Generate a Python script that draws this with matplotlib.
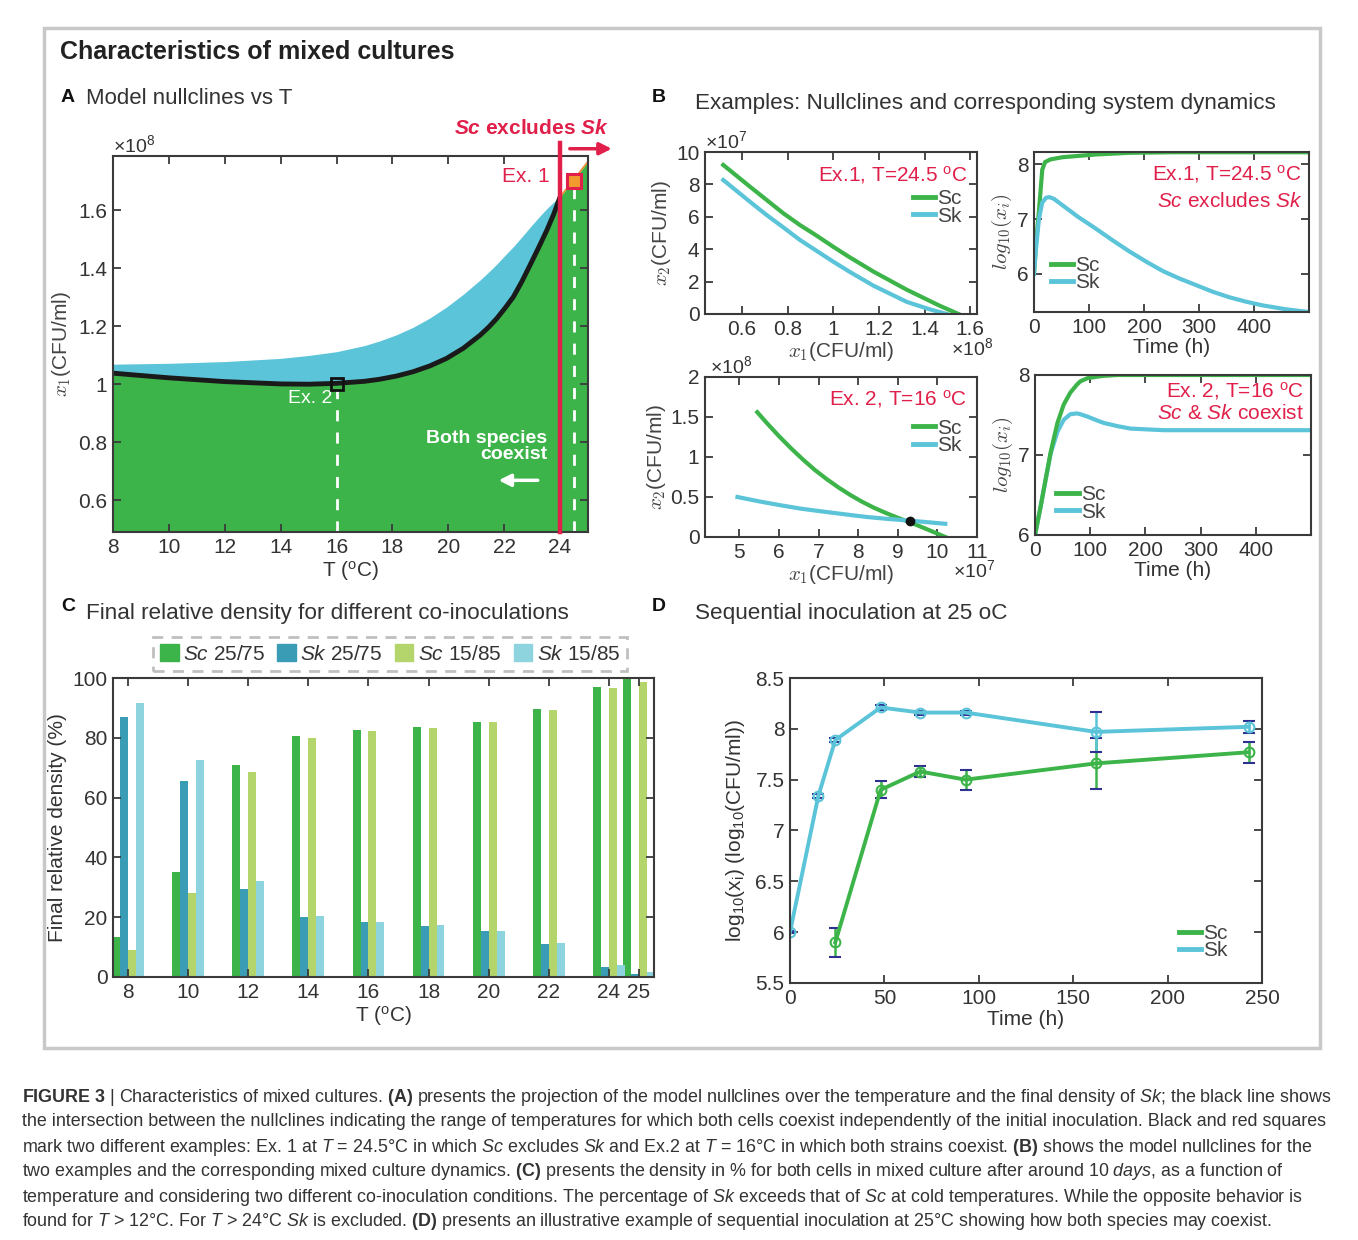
import numpy as np
import matplotlib
matplotlib.use("Agg")
from matplotlib import pyplot as plt
from matplotlib.lines import Line2D
from matplotlib.patches import Rectangle, Patch

plt.rcParams['font.family'] = ['Liberation Sans', 'DejaVu Sans']
plt.rcParams['mathtext.fontset'] = 'custom'
plt.rcParams['mathtext.rm'] = 'Liberation Sans'
plt.rcParams['mathtext.it'] = 'Liberation Sans:italic'
plt.rcParams['mathtext.bf'] = 'Liberation Sans:bold'
try:
    plt.rcParams['mathtext.bfit'] = 'Liberation Sans:italic:bold'
    excl_label = r'$\mathbfit{Sc}$ excludes $\mathbfit{Sk}$'
except KeyError:
    excl_label = r'$\mathbf{Sc}$ excludes $\mathbf{Sk}$'

GREEN = '#3db449'
CYAN = '#5bc4d9'
RED = '#e0204a'
TXT = '#333333'
NAVY = '#2e3192'

# ---- data: panel A (nullclines vs T) ----
nc_T = [8, 10, 12, 14, 15, 16, 17, 17.54, 18.14, 18.74, 19.34, 19.94, 20.54, 21.14, 21.44,
        21.74, 22.03, 22.33, 22.63, 22.93, 23.23, 23.53, 23.77, 24.0]
black_x1 = [1.038, 1.022, 1.009, 1.001, 1.0, 1.003, 1.010, 1.017, 1.028, 1.043, 1.063, 1.089,
            1.124, 1.169, 1.196, 1.227, 1.262, 1.301, 1.353, 1.411, 1.47, 1.531, 1.585, 1.645]
cyan_x1 = [1.069, 1.072, 1.078, 1.089, 1.099, 1.112, 1.133, 1.149, 1.170, 1.196, 1.228, 1.266,
           1.310, 1.359, 1.386, 1.414, 1.444, 1.474, 1.507, 1.541, 1.574, 1.605, 1.627, 1.645]
edge_T = [24.0, 25.0]
edge_x1 = [1.645, 1.767]
ex1 = (24.5, 1.70)
ex2 = (16.0, 1.0)
T_excl = 24.0

# ---- data: panel B ----
b1_sc_x = [0.518, 0.635, 0.708, 0.781, 0.854, 0.928, 1.0, 1.07, 1.176, 1.322, 1.468, 1.549]
b1_sc_y = [9.2, 7.86, 7.04, 6.22, 5.49, 4.83, 4.15, 3.52, 2.62, 1.5, 0.5, 0.0]
b1_sk_x = [0.518, 0.635, 0.708, 0.781, 0.854, 0.928, 1.0, 1.07, 1.176, 1.322, 1.42, 1.498]
b1_sk_y = [8.27, 6.93, 6.11, 5.35, 4.57, 3.89, 3.23, 2.62, 1.75, 0.75, 0.3, 0.0]

b2_t_sc = [0, 4, 9, 15, 20, 30, 52, 113, 173, 250, 500]
b2_sc = [6.0, 6.6, 7.15, 7.9, 8.04, 8.09, 8.13, 8.18, 8.21, 8.22, 8.22]
b2_t_sk = [0, 4, 9, 15, 22, 28, 36, 52, 80, 113, 143, 173, 204, 234, 265, 295, 325,
           355, 385, 416, 458, 499]
b2_sk = [6.0, 6.5, 7.0, 7.3, 7.39, 7.40, 7.37, 7.25, 7.04, 6.82, 6.61, 6.41, 6.22, 6.05,
         5.91, 5.79, 5.67, 5.57, 5.49, 5.42, 5.35, 5.30]

b3_sc_x = [5.45, 5.7, 6.0, 6.3, 6.6, 6.9, 7.2, 7.5, 7.8, 8.1, 8.4, 8.7, 9.0, 9.3, 9.6, 9.9, 10.2]
b3_sc_y = [1.56, 1.42, 1.26, 1.11, 0.97, 0.84, 0.725, 0.62, 0.525, 0.44, 0.365, 0.30, 0.24,
           0.185, 0.125, 0.063, 0.0]
b3_sk_x = [4.95, 5.5, 6.0, 6.54, 7.0, 7.4, 7.8, 8.22, 8.7, 9.3, 9.75, 10.2]
b3_sk_y = [0.50, 0.445, 0.40, 0.355, 0.325, 0.30, 0.275, 0.25, 0.228, 0.205, 0.185, 0.165]
b3_eq = (9.3, 0.195)

b4_t = [0, 9.5, 18.6, 28.5, 40.6, 52, 64, 76, 82, 95, 113, 125, 150, 173, 234, 300, 500]
b4_sc = [6.0, 6.33, 6.67, 7.04, 7.40, 7.63, 7.78, 7.88, 7.92, 7.96, 7.98, 7.99, 8.0,
         8.0, 8.0, 8.0, 8.0]
b4_sk = [6.0, 6.33, 6.67, 7.02, 7.29, 7.44, 7.51, 7.52, 7.51, 7.48, 7.43, 7.40, 7.36,
         7.33, 7.31, 7.31, 7.31]

# ---- data: panel C (final relative density %) ----
temps = [8, 10, 12, 14, 16, 18, 20, 22, 24, 25]
sc_25 = [13.5, 35, 71, 80.5, 82.5, 83.5, 85.3, 89.5, 97, 100]
sk_25 = [87, 65.5, 29.5, 20, 18.3, 17.2, 15.3, 11.2, 3.4, 0.9]
sc_15 = [9, 28, 68.6, 80, 82.3, 83.3, 85.2, 89.2, 96.5, 98.8]
sk_15 = [91.5, 72.5, 32, 20.5, 18.4, 17.3, 15.5, 11.5, 4.1, 1.8]
c_series = [('Sc', ' 25/75', sc_25, '#3db449'), ('Sk', ' 25/75', sk_25, '#3a9db5'),
            ('Sc', ' 15/85', sc_15, '#b3d56c'), ('Sk', ' 15/85', sk_15, '#8dd4df')]

# ---- data: panel D (sequential inoculation) ----
d_t_sk = [0, 15, 24, 48, 69, 93, 162, 243]
d_sk = [6.0, 7.34, 7.89, 8.21, 8.16, 8.16, 7.97, 8.02]
d_sk_err = [0.01, 0.02, 0.02, 0.02, 0.02, 0.02, 0.2, 0.06]
d_t_sc = [24, 48, 69, 93, 162, 243]
d_sc = [5.9, 7.40, 7.58, 7.50, 7.66, 7.77]
d_sc_err = [0.14, 0.085, 0.05, 0.1, 0.25, 0.105]

W, H = 1358, 1240
fig = plt.figure(figsize=(W / 100, H / 100), dpi=100)


def box(l, t, r, b):
    return [l / W, 1 - b / H, (r - l) / W, (b - t) / H]


def ftext(x, y, s, **kw):
    return fig.text(x / W, 1 - y / H, s, **kw)


def style(ax, fs=15):
    for sp in ax.spines.values():
        sp.set_color('#3a3a3a')
        sp.set_linewidth(1.5)
    ax.tick_params(direction='in', top=True, right=True, length=6, width=1.3,
                   labelsize=fs, colors='#3a3a3a', labelcolor=TXT, pad=4)


# outer frame and titles
fig.patches.append(Rectangle((44 / W, 1 - 1048 / H), 1276 / W, 1020 / H, transform=fig.transFigure,
                             fill=False, edgecolor='#c8c8c8', lw=2.5))
ftext(60, 52, 'Characteristics of mixed cultures', fontsize=18, fontweight='bold', va='center', color='#222')
ftext(61, 98, 'A', fontsize=14, fontweight='bold', va='center', color='#111')
ftext(86, 98, 'Model nullclines vs T', fontsize=16, va='center', color=TXT)
ftext(652, 98, 'B', fontsize=14, fontweight='bold', va='center', color='#111')
ftext(695, 103, 'Examples: Nullclines and corresponding system dynamics', fontsize=16.2, va='center', color=TXT)
ftext(61, 606, 'C', fontsize=14, fontweight='bold', va='center', color='#111')
ftext(86, 613, 'Final relative density for different co-inoculations', fontsize=16.2, va='center', color=TXT)
ftext(652, 606, 'D', fontsize=14, fontweight='bold', va='center', color='#111')
ftext(695, 613, 'Sequential inoculation at 25 oC', fontsize=16.2, va='center', color=TXT)

# ---------------- panel A ----------------
axA = fig.add_axes(box(113, 156, 588, 532))
axA.set_xlim(8, 25)
axA.set_ylim(0.491, 1.786)
axA.fill_between(nc_T, black_x1, cyan_x1, color=CYAN, lw=0)
axA.fill_between(nc_T + edge_T, 0.3, black_x1 + edge_x1, color=GREEN, lw=0)
axA.plot(edge_T, edge_x1, color='#f08a30', lw=1.2)
axA.plot(nc_T, black_x1, color='#1a1a1a', lw=3.5, solid_capstyle='butt', solid_joinstyle='round')
axA.plot([ex2[0]] * 2, [0.491, ex2[1] - 0.02], color='white', lw=2, dashes=(4, 4))
axA.plot([ex1[0]] * 2, [0.491, ex1[1] - 0.02], color='white', lw=2, dashes=(4, 4))
axA.plot([T_excl] * 2, [0.491, 1.83], color=RED, lw=3.2, clip_on=False, zorder=5)
axA.plot(*ex1, marker='s', ms=10, mfc='#f29a2e', mec=RED, mew=2.2, zorder=6)
axA.plot(*ex2, marker='s', ms=9, mfc='none', mec='#111', mew=2, zorder=6)
axA.annotate('', xy=(25.95, 1.811), xytext=(24.25, 1.811), annotation_clip=False,
             arrowprops=dict(arrowstyle='-|>', color=RED, lw=2.5, mutation_scale=18))
axA.annotate('', xy=(21.7, 0.669), xytext=(23.3, 0.669),
             arrowprops=dict(arrowstyle='-|>', color='white', lw=2.5, mutation_scale=18))
axA.text(23.55, 0.785, 'Both species\ncoexist', ha='right', va='center', color='white',
         fontsize=14, fontweight='bold', linespacing=0.95)
axA.text(15.06, 0.952, 'Ex. 2', ha='center', va='center', color='white', fontsize=14)
axA.text(23.64, 1.717, 'Ex. 1', ha='right', va='center', color=RED, fontsize=15)
axA.text(25.74, 1.881, excl_label, ha='right', va='center', color=RED, fontsize=15,
         fontweight='bold', clip_on=False)
axA.set_xticks(range(8, 25, 2))
axA.set_yticks([0.6, 0.8, 1.0, 1.2, 1.4, 1.6])
axA.set_yticklabels(['0.6', '0.8', '1', '1.2', '1.4', '1.6'])
style(axA)
axA.set_xlabel(r'T ($^\mathregular{o}$C)', fontsize=15, color=TXT, labelpad=2)
axA.set_ylabel(r'$x_1$(CFU/ml)', fontsize=15, color='#444', math_fontfamily='cm', labelpad=4)
axA.text(0.0, 1.03, r'×10$^8$', transform=axA.transAxes, fontsize=14, color=TXT, va='center')


def line_legend(ax, loc, anchor, fs=15):
    handles = [Line2D([], [], color=GREEN, lw=3.5), Line2D([], [], color=CYAN, lw=3.5)]
    leg = ax.legend(handles, ['Sc', 'Sk'], loc=loc, bbox_to_anchor=anchor, frameon=False,
                    fontsize=fs, handlelength=1.1, handletextpad=0.1, labelspacing=-0.08,
                    borderpad=0, borderaxespad=0)
    for t in leg.get_texts():
        t.set_color('#444')
    return leg


# ---------------- panel B ----------------
axB1 = fig.add_axes(box(705, 152, 977, 314))
axB1.plot(b1_sc_x, b1_sc_y, color=GREEN, lw=3)
axB1.plot(b1_sk_x, b1_sk_y, color=CYAN, lw=3)
axB1.set_xlim(0.438, 1.63)
axB1.set_ylim(0, 10)
axB1.set_xticks([0.6, 0.8, 1.0, 1.2, 1.4, 1.6])
axB1.set_xticklabels(['0.6', '0.8', '1', '1.2', '1.4', '1.6'])
axB1.set_yticks(range(0, 11, 2))
style(axB1)
axB1.set_xlabel(r'$x_1$(CFU/ml)', fontsize=15, color='#444', math_fontfamily='cm', labelpad=1)
axB1.set_ylabel(r'$x_2$(CFU/ml)', fontsize=15, color='#444', math_fontfamily='cm', labelpad=2)
axB1.text(0.0, 1.065, r'×10$^7$', transform=axB1.transAxes, fontsize=14, color=TXT, va='center')
axB1.text(0.905, -0.21, r'×10$^8$', transform=axB1.transAxes, fontsize=14, color=TXT, va='center')
axB1.text(0.967, 0.86, r'Ex.1, T=24.5 $^\mathregular{o}$C', transform=axB1.transAxes, ha='right',
          va='center', color=RED, fontsize=15)
line_legend(axB1, 'upper right', (0.945, 0.77))

axB2 = fig.add_axes(box(1034, 152, 1309, 312))
axB2.plot(b2_t_sc, b2_sc, color=GREEN, lw=3)
axB2.plot(b2_t_sk, b2_sk, color=CYAN, lw=3)
axB2.set_xlim(0, 500)
axB2.set_ylim(5.3, 8.225)
axB2.set_xticks(range(0, 401, 100))
axB2.set_yticks([6, 7, 8])
style(axB2)
axB2.set_xlabel('Time (h)', fontsize=15, color=TXT, labelpad=1)
axB2.set_ylabel(r'$log_{10}(x_i)$', fontsize=15, color='#444', math_fontfamily='cm', labelpad=2)
axB2.text(0.975, 0.86, r'Ex.1, T=24.5 $^\mathregular{o}$C', transform=axB2.transAxes, ha='right',
          va='center', color=RED, fontsize=15)
axB2.text(0.975, 0.69, r'$\mathit{Sc}$ excludes $\mathit{Sk}$', transform=axB2.transAxes, ha='right',
          va='center', color=RED, fontsize=15)
line_legend(axB2, 'upper left', (0.06, 0.35))

axB3 = fig.add_axes(box(705, 377, 977, 537))
axB3.plot(b3_sc_x, b3_sc_y, color=GREEN, lw=3)
axB3.plot(b3_sk_x, b3_sk_y, color=CYAN, lw=3)
axB3.plot(*b3_eq, 'o', color='#111', ms=6, zorder=5)
axB3.set_xlim(4.13, 11.0)
axB3.set_ylim(0, 2)
axB3.set_xticks(range(5, 12))
axB3.set_yticks([0, 0.5, 1, 1.5, 2])
axB3.set_yticklabels(['0', '0.5', '1', '1.5', '2'])
style(axB3)
axB3.set_xlabel(r'$x_1$(CFU/ml)', fontsize=15, color='#444', math_fontfamily='cm', labelpad=1)
axB3.set_ylabel(r'$x_2$(CFU/ml)', fontsize=15, color='#444', math_fontfamily='cm', labelpad=2)
axB3.text(0.02, 1.065, r'×10$^8$', transform=axB3.transAxes, fontsize=14, color=TXT, va='center')
axB3.text(0.91, -0.21, r'×10$^7$', transform=axB3.transAxes, fontsize=14, color=TXT, va='center')
axB3.text(0.963, 0.86, r'Ex. 2, T=16 $^\mathregular{o}$C', transform=axB3.transAxes, ha='right',
          va='center', color=RED, fontsize=15)
line_legend(axB3, 'upper right', (0.945, 0.74))

axB4 = fig.add_axes(box(1035, 375, 1311, 535))
axB4.plot(b4_t, b4_sk, color=CYAN, lw=3)
axB4.plot(b4_t, b4_sc, color=GREEN, lw=3)
axB4.set_xlim(0, 500)
axB4.set_ylim(6, 8)
axB4.set_xticks(range(0, 401, 100))
axB4.set_yticks([6, 7, 8])
style(axB4)
axB4.set_xlabel('Time (h)', fontsize=15, color=TXT, labelpad=1)
axB4.set_ylabel(r'$log_{10}(x_i)$', fontsize=15, color='#444', math_fontfamily='cm', labelpad=2)
axB4.text(0.975, 0.9, r'Ex. 2, T=16 $^\mathregular{o}$C', transform=axB4.transAxes, ha='right',
          va='center', color=RED, fontsize=15)
axB4.text(0.975, 0.76, r'$\mathit{Sc}$ & $\mathit{Sk}$ coexist', transform=axB4.transAxes, ha='right',
          va='center', color=RED, fontsize=15)
line_legend(axB4, 'upper left', (0.075, 0.31))

# ---------------- panel C ----------------
axC = fig.add_axes(box(113, 678, 654, 977))
bw = 0.264
offs = [-1.5 * bw, -0.5 * bw, 0.5 * bw, 1.5 * bw]
c_handles = []
c_labels = []
for (sp, cond, vals, col), off in zip(c_series, offs):
    axC.bar(np.array(temps) + off, vals, width=bw, color=col, lw=0)
    c_handles.append(Patch(color=col))
    c_labels.append(r'$\mathit{%s}$%s' % (sp, cond))
axC.set_xlim(7.5, 25.5)
axC.set_ylim(0, 100)
axC.set_xticks(temps)
axC.set_yticks(range(0, 101, 20))
style(axC)
axC.set_xlabel(r'T ($^\mathregular{o}$C)', fontsize=15, color=TXT, labelpad=2)
axC.set_ylabel('Final relative density (%)', fontsize=15, color=TXT, labelpad=4)
legC = fig.legend(c_handles, c_labels, loc='center', bbox_to_anchor=(390 / W, 1 - 654 / H), ncol=4,
                  fontsize=15, handlelength=0.9, handleheight=0.9, handletextpad=0.2,
                  columnspacing=0.6, borderpad=0.35, fancybox=False)
legC.get_frame().set_linestyle((0, (4, 3)))
legC.get_frame().set_edgecolor('#b0b0b0')
legC.get_frame().set_linewidth(2)
for t in legC.get_texts():
    t.set_color(TXT)

# ---------------- panel D ----------------
axD = fig.add_axes(box(790, 678, 1262, 983))
for tt, yy, ee, col in [(d_t_sc, d_sc, d_sc_err, GREEN), (d_t_sk, d_sk, d_sk_err, CYAN)]:
    eb = axD.errorbar(tt, yy, yerr=ee, color=col, lw=2.8, marker='o', ms=7, mfc='none', mew=1.5,
                      ecolor=col, elinewidth=1.8, capsize=4, capthick=1.5)
    for cap in eb[1]:
        cap.set_markeredgecolor(NAVY)
axD.set_xlim(0, 250)
axD.set_ylim(5.5, 8.5)
axD.set_xticks(range(0, 251, 50))
axD.set_yticks([5.5, 6, 6.5, 7, 7.5, 8, 8.5])
axD.set_yticklabels(['5.5', '6', '6.5', '7', '7.5', '8', '8.5'])
style(axD)
axD.set_xlabel('Time (h)', fontsize=15, color=TXT, labelpad=2)
axD.set_ylabel(r'log$_{10}$(x$_\mathregular{i}$) (log$_{10}$(CFU/ml))', fontsize=15, color=TXT, labelpad=6)
line_legend(axD, 'lower right', (0.928, 0.075))

# ---------------- caption ----------------
cap_lines = [
    r"$\mathbf{FIGURE\ 3}$ | Characteristics of mixed cultures. $\mathbf{(A)}$ presents the projection of the model nullclines over the temperature and the final density of $\mathit{Sk}$; the black line shows",
    "the intersection between the nullclines indicating the range of temperatures for which both cells coexist independently of the initial inoculation. Black and red squares",
    r"mark two different examples: Ex. 1 at $\mathit{T}$ = 24.5°C in which $\mathit{Sc}$ excludes $\mathit{Sk}$ and Ex.2 at $\mathit{T}$ = 16°C in which both strains coexist. $\mathbf{(B)}$ shows the model nullclines for the",
    r"two examples and the corresponding mixed culture dynamics. $\mathbf{(C)}$ presents the density in % for both cells in mixed culture after around 10 $\mathit{days}$, as a function of",
    r"temperature and considering two different co-inoculation conditions. The percentage of $\mathit{Sk}$ exceeds that of $\mathit{Sc}$ at cold temperatures. While the opposite behavior is",
    r"found for $\mathit{T}$ > 12°C. For $\mathit{T}$ > 24°C $\mathit{Sk}$ is excluded. $\mathbf{(D)}$ presents an illustrative example of sequential inoculation at 25°C showing how both species may coexist.",
]
for i, s in enumerate(cap_lines):
    ftext(22, 1097 + 25 * i, s, fontsize=12.9, va='center', color='#333')

fig.savefig('out.png', dpi=100)
